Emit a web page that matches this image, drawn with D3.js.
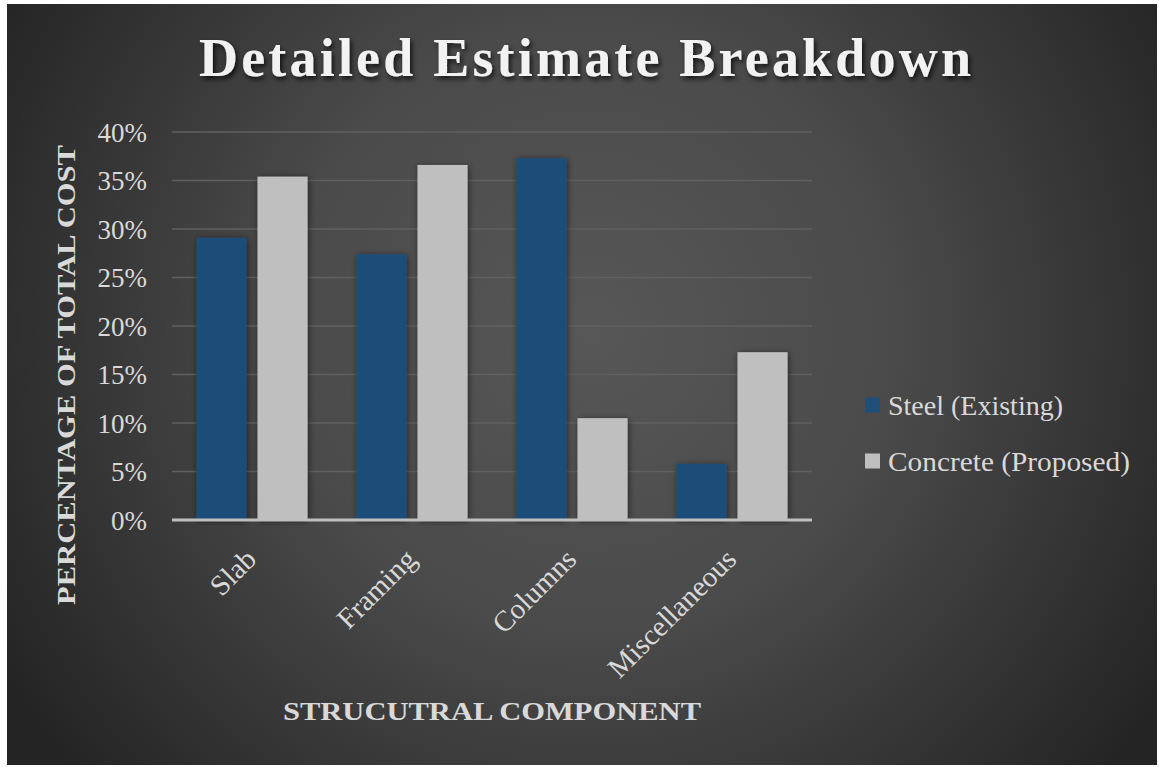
<!DOCTYPE html>
<html>
<head>
<meta charset="utf-8">
<script src="https://cdn.jsdelivr.net/npm/d3@7"></script>
<style>
  html, body { margin: 0; padding: 0; background: #ffffff; }
  svg { display: block; }
  text { font-family: "Liberation Serif", "DejaVu Serif", serif; }
</style>
</head>
<body>
<svg id="chart" width="1159" height="767"></svg>
<script>
// Share of total cost by structural component
const categories = ["Slab", "Framing", "Columns", "Miscellaneous"];
const seriesNames = ["Steel (Existing)", "Concrete (Proposed)"];
const steelValues = [0.291, 0.274, 0.373, 0.058];
const concreteValues = [0.354, 0.366, 0.105, 0.173];
const yTicks = [0, 0.05, 0.10, 0.15, 0.20, 0.25, 0.30, 0.35, 0.40];
const seriesColors = ["#1f4e79", "#bfbfbf"];

const rows = categories.map((c, i) => ({
  category: c,
  values: [steelValues[i], concreteValues[i]]
}));

const svg = d3.select("#chart");
const W = 1159, H = 767;
const plot = { left: 172, right: 812, top: 132, bottom: 520 };

// Background panel with a soft radial light
const defs = svg.append("defs");
const rg = defs.append("radialGradient")
  .attr("id", "bg").attr("gradientUnits", "userSpaceOnUse")
  .attr("cx", 590).attr("cy", 330).attr("r", 680);
rg.append("stop").attr("offset", "0").attr("stop-color", "#575757");
rg.append("stop").attr("offset", "0.45").attr("stop-color", "#4a4a4a");
rg.append("stop").attr("offset", "1").attr("stop-color", "#242424");

const shadow = defs.append("filter").attr("id", "barShadow")
  .attr("x", "-30%").attr("y", "-10%").attr("width", "160%").attr("height", "130%");
shadow.append("feDropShadow").attr("dx", 1).attr("dy", 1).attr("stdDeviation", 3)
  .attr("flood-color", "#000").attr("flood-opacity", 0.55);

const titleShadow = defs.append("filter").attr("id", "titleShadow")
  .attr("x", "-10%").attr("y", "-30%").attr("width", "120%").attr("height", "160%");
titleShadow.append("feDropShadow").attr("dx", 2).attr("dy", 3).attr("stdDeviation", 2.5)
  .attr("flood-color", "#000").attr("flood-opacity", 0.75);

svg.append("rect").attr("x", 7).attr("y", 4).attr("width", W - 9).attr("height", H - 6)
  .attr("fill", "url(#bg)");

// Scales
const y = d3.scaleLinear().domain([0, 0.40]).range([plot.bottom, plot.top]);
const x0 = d3.scaleBand().domain(categories).range([plot.left, plot.right])
  .paddingInner(0).paddingOuter(0);
const x1 = d3.scaleBand().domain(seriesNames).range([0, x0.bandwidth()])
  .paddingInner(0.18).paddingOuter(0.40);

// Gridlines
svg.append("g")
  .selectAll("line").data(yTicks.filter(t => t > 0)).join("line")
  .attr("x1", plot.left).attr("x2", plot.right)
  .attr("y1", d => y(d)).attr("y2", d => y(d))
  .attr("stroke", "#606060").attr("stroke-width", 1.5);

// Y axis tick labels
const yAxis = d3.axisLeft(y).tickValues(yTicks).tickFormat(d3.format(".0%")).tickSize(0).tickPadding(25);
const yg = svg.append("g").attr("transform", `translate(${plot.left},0)`).call(yAxis);
yg.select(".domain").remove();
yg.selectAll("text")
  .attr("fill", "#d9d9d9").attr("font-size", 27)
  .attr("font-family", "'Liberation Serif', serif")
  .attr("dy", "0.34em");

// Bars
const groups = svg.append("g").selectAll("g").data(rows).join("g")
  .attr("transform", d => `translate(${x0(d.category)},0)`);
groups.selectAll("rect")
  .data(d => d.values.map((v, i) => ({ name: seriesNames[i], value: v, i })))
  .join("rect")
  .attr("x", d => x1(d.name))
  .attr("width", x1.bandwidth())
  .attr("y", d => y(d.value))
  .attr("height", d => y(0) - y(d.value))
  .attr("fill", d => seriesColors[d.i])
  .attr("filter", "url(#barShadow)");

// X axis baseline
svg.append("line")
  .attr("x1", plot.left).attr("x2", plot.right)
  .attr("y1", y(0)).attr("y2", y(0))
  .attr("stroke", "#bfbfbf").attr("stroke-width", 3);

// Category labels, rotated
const xAxis = d3.axisBottom(x0).tickSize(0).tickPadding(0);
const xg = svg.append("g").attr("transform", `translate(0,${plot.bottom})`).call(xAxis);
xg.select(".domain").remove();
xg.selectAll("text")
  .attr("fill", "#d9d9d9").attr("font-size", 29)
  .attr("font-family", "'Liberation Serif', serif")
  .attr("text-anchor", "end")
  .attr("dy", null)
  .attr("transform", "translate(6,41) rotate(-45)");

// Title
svg.append("text")
  .attr("x", 585).attr("y", 76)
  .attr("text-anchor", "middle")
  .attr("fill", "#f2f2f2")
  .attr("font-size", 54).attr("font-weight", "bold")
  .attr("textLength", 772).attr("lengthAdjust", "spacing")
  .attr("filter", "url(#titleShadow)")
  .text("Detailed Estimate Breakdown");

// Axis titles
svg.append("text")
  .attr("transform", `translate(75,375) rotate(-90)`)
  .attr("text-anchor", "middle")
  .attr("fill", "#d9d9d9")
  .attr("font-size", 26).attr("font-weight", "bold")
  .attr("textLength", 460).attr("lengthAdjust", "spacingAndGlyphs")
  .text("PERCENTAGE OF TOTAL COST");

svg.append("text")
  .attr("x", (plot.left + plot.right) / 2).attr("y", 720)
  .attr("text-anchor", "middle")
  .attr("fill", "#d9d9d9")
  .attr("font-size", 25).attr("font-weight", "bold")
  .attr("textLength", 418).attr("lengthAdjust", "spacingAndGlyphs")
  .text("STRUCUTRAL COMPONENT");

// Legend
const legend = svg.append("g").attr("transform", "translate(865,0)");
const legendY = [405, 461];
const legendTextWidth = [175, 242];
const li = legend.selectAll("g").data(seriesNames).join("g")
  .attr("transform", (d, i) => `translate(0,${legendY[i]})`);
li.append("rect").attr("x", 0).attr("y", -7.5).attr("width", 15).attr("height", 15)
  .attr("fill", (d, i) => seriesColors[i]);
li.append("text").attr("x", 23).attr("y", 0).attr("dy", "0.34em")
  .attr("fill", "#d9d9d9").attr("font-size", 28)
  .attr("textLength", (d, i) => legendTextWidth[i]).attr("lengthAdjust", "spacingAndGlyphs")
  .text(d => d);
</script>
</body>
</html>
